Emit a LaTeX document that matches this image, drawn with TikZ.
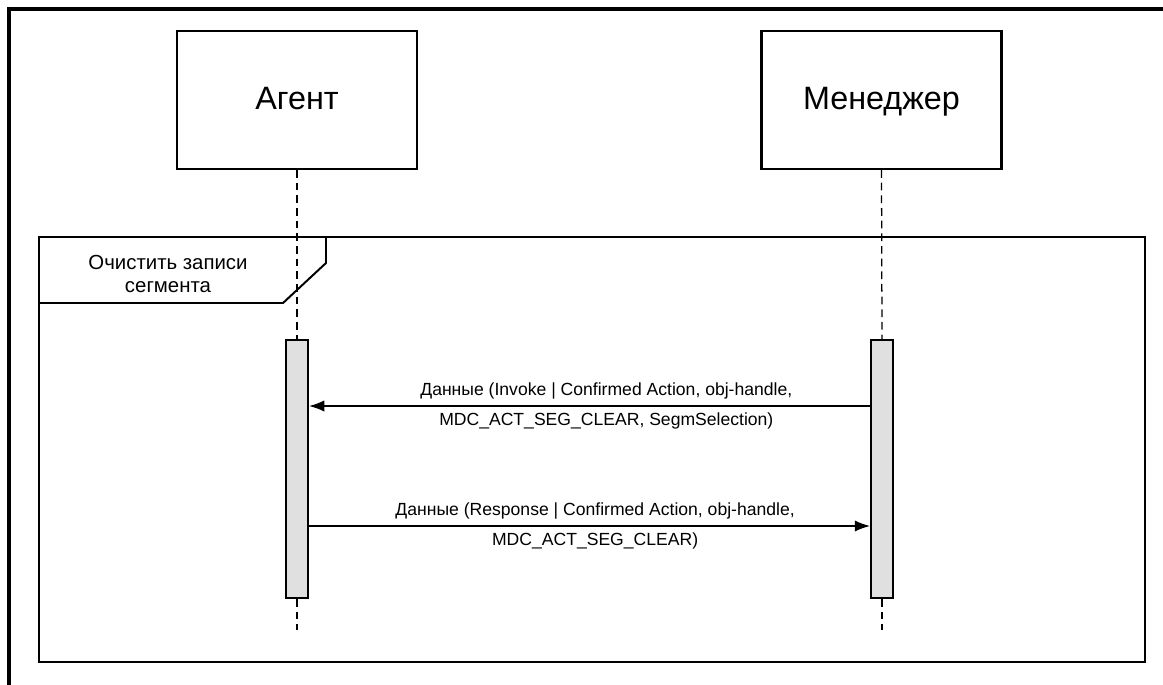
\documentclass[tikz,border=0pt]{standalone}
\usepackage{fontspec}
\setmainfont{Liberation Sans}
\usetikzlibrary{arrows.meta}

\begin{document}
\begin{tikzpicture}[x=0.025cm,y=-0.025cm]
\tikzstyle{acteur}=[draw,line width=1.5pt,minimum width=6cm,minimum height=3.45cm,text depth=0.21em,font=\fontsize{23}{27}\selectfont]
\tikzstyle{activation}=[draw,line width=1.5pt,fill=black!12,minimum width=0.55cm,minimum height=6.45cm,inner sep=0pt]
\tikzstyle{vie}=[line width=0.9pt,dash pattern=on 5.5pt off 3.5pt]
\tikzstyle{message}=[line width=0.9pt,-{Latex[length=3.8mm,width=2.8mm]}]
\tikzstyle{texte}=[font=\fontsize{12.5}{21}\selectfont,align=center]

\clip (0,0) rectangle (1163,684);
% Cadre
\draw[line width=2.2pt] (9,9) rectangle (1200,720);

% Agent et Manager
\node[acteur] (A) at (297,100) {Агент};
\node[acteur] (M) at (881.5,100) {Менеджер};

% Fragment
\draw[line width=1.4pt] (39,237) rectangle (1145,662);
\draw[line width=1.4pt] (326,237) -- (326,263) -- (283,303) -- (39,303);
\node[texte,font=\fontsize{14.5}{15.8}\selectfont] (F) at (168,274) {Очистить записи\\сегмента};

% Activations
\node[activation] (BA) at (297,469) {};
\node[activation] (BM) at (882,469) {};
\coordinate (finA) at (297,630);
\coordinate (finM) at (882,630);
 \draw[vie] (A.south) -- (BA.north);
 \draw[vie] (BA.south) -- (finA);
 \draw[vie] (M.south) -- (BM.north);
 \draw[vie] (BM.south) -- (finM);

% Messages
\coordinate (m1) at (0,406);
\coordinate (m2) at (0,526);
\draw[message] (BM.west |- m1) -- (BA.east |- m1)
  node[texte,pos=0.47] {Данные (Invoke | Confirmed Action, obj-handle,\\MDC\_ACT\_SEG\_CLEAR, SegmSelection)};
\draw[message] (BA.east |- m2) -- (BM.west |- m2)
  node[texte,pos=0.51] {Данные (Response | Confirmed Action, obj-handle,\\MDC\_ACT\_SEG\_CLEAR)};

\end{tikzpicture}
\end{document}
